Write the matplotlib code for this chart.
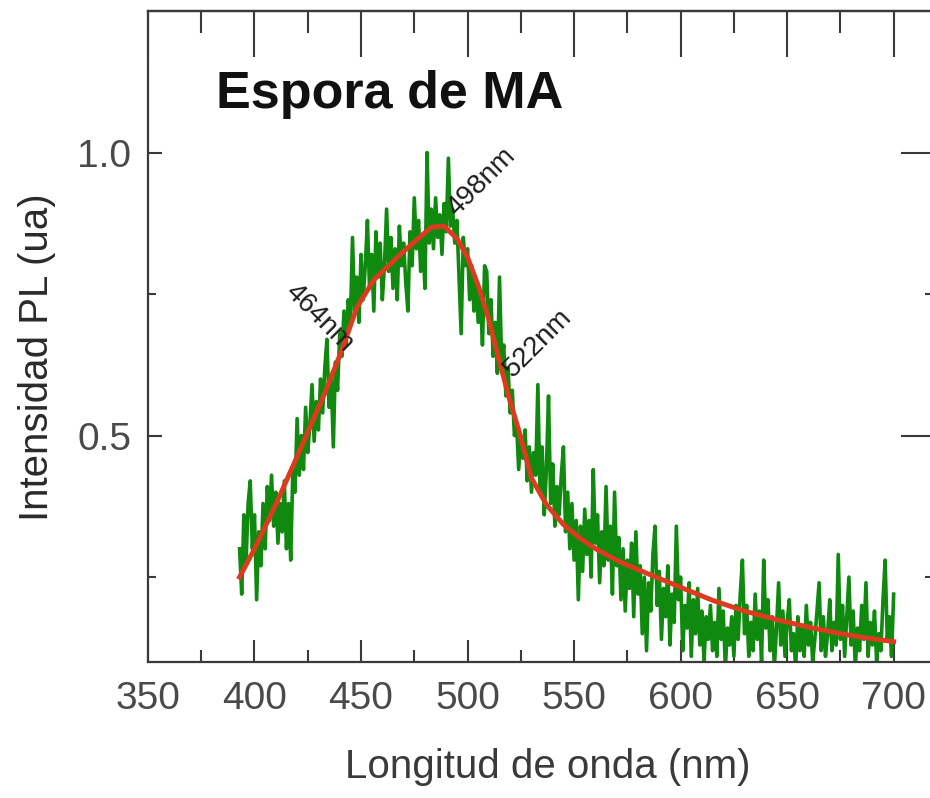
import matplotlib
matplotlib.use("Agg")
import matplotlib.pyplot as plt
import numpy as np
from matplotlib.ticker import MultipleLocator, FixedLocator

plt.rcParams['font.family'] = ['Liberation Sans', 'DejaVu Sans']

# espectro PL medido (1 nm de paso, 393-700 nm)
wl = np.arange(393, 701)
pl = [
    0.30, 0.22, 0.36, 0.27, 0.38, 0.42, 0.30, 0.36, 0.21, 0.33,
    0.27, 0.38, 0.30, 0.41, 0.35, 0.43, 0.34, 0.40, 0.31, 0.38,
    0.33, 0.42, 0.30, 0.38, 0.28, 0.44, 0.40, 0.53, 0.43, 0.50,
    0.44, 0.55, 0.47, 0.52, 0.59, 0.49, 0.56, 0.51, 0.60, 0.54,
    0.62, 0.67, 0.55, 0.60, 0.48, 0.63, 0.58, 0.68, 0.64, 0.72,
    0.66, 0.74, 0.70, 0.85, 0.72, 0.78, 0.70, 0.82, 0.74, 0.80,
    0.88, 0.76, 0.82, 0.72, 0.86, 0.78, 0.84, 0.74, 0.80, 0.90,
    0.79, 0.85, 0.76, 0.83, 0.74, 0.87, 0.80, 0.84, 0.77, 0.72,
    0.86, 0.80, 0.92, 0.83, 0.88, 0.79, 0.85, 0.76, 1.00, 0.84,
    0.90, 0.83, 0.92, 0.85, 0.89, 0.82, 0.91, 0.86, 0.99, 0.87,
    0.90, 0.84, 0.88, 0.78, 0.68, 0.85, 0.80, 0.83, 0.74, 0.80,
    0.72, 0.77, 0.70, 0.75, 0.66, 0.80, 0.79, 0.68, 0.74, 0.64,
    0.70, 0.61, 0.78, 0.63, 0.66, 0.57, 0.62, 0.54, 0.58, 0.50,
    0.52, 0.44, 0.50, 0.46, 0.51, 0.42, 0.48, 0.40, 0.47, 0.43,
    0.59, 0.40, 0.48, 0.36, 0.44, 0.57, 0.38, 0.45, 0.34, 0.41,
    0.36, 0.43, 0.48, 0.33, 0.40, 0.30, 0.38, 0.28, 0.35, 0.21,
    0.34, 0.26, 0.37, 0.29, 0.35, 0.25, 0.44, 0.31, 0.36, 0.24,
    0.33, 0.27, 0.41, 0.28, 0.34, 0.22, 0.40, 0.27, 0.32, 0.21,
    0.30, 0.19, 0.28, 0.23, 0.31, 0.18, 0.33, 0.22, 0.27, 0.15,
    0.25, 0.12, 0.24, 0.19, 0.29, 0.34, 0.20, 0.26, 0.14, 0.23,
    0.18, 0.27, 0.13, 0.22, 0.17, 0.34, 0.21, 0.25, 0.12, 0.20,
    0.16, 0.24, 0.11, 0.21, 0.15, 0.23, 0.13, 0.19, 0.10, 0.18,
    0.14, 0.20, 0.12, 0.17, 0.11, 0.23, 0.14, 0.19, 0.09, 0.16,
    0.13, 0.18, 0.11, 0.20, 0.14, 0.22, 0.28, 0.15, 0.20, 0.11,
    0.17, 0.12, 0.22, 0.14, 0.19, 0.10, 0.28, 0.16, 0.21, 0.12,
    0.18, 0.09, 0.16, 0.24, 0.13, 0.19, 0.11, 0.17, 0.21, 0.12,
    0.15, 0.09, 0.18, 0.12, 0.16, 0.11, 0.20, 0.13, 0.17, 0.10,
    0.14, 0.19, 0.24, 0.12, 0.18, 0.11, 0.15, 0.21, 0.12, 0.17,
    0.13, 0.29, 0.14, 0.20, 0.11, 0.18, 0.25, 0.13, 0.19, 0.09,
    0.16, 0.12, 0.20, 0.14, 0.24, 0.11, 0.17, 0.13, 0.19, 0.10,
    0.15, 0.12, 0.21, 0.28, 0.14, 0.18, 0.11, 0.22,
]

# ajuste (curva roja)
wl_fit = [393, 400, 410, 422, 433, 441, 448, 456, 469, 478, 483, 489, 495,
          500, 505, 510, 515, 520, 524, 530, 537, 545, 553, 561, 572, 584,
          600, 615, 630, 646, 662, 678, 690, 700]
pl_fit = [0.250, 0.300, 0.378, 0.480, 0.575, 0.651, 0.726, 0.775, 0.822,
          0.852, 0.868, 0.870, 0.848, 0.815, 0.765, 0.705, 0.630, 0.560,
          0.510, 0.425, 0.378, 0.343, 0.318, 0.298, 0.276, 0.257, 0.232,
          0.209, 0.190, 0.174, 0.160, 0.148, 0.141, 0.136]

# etiquetas de picos: (texto, x, y, rotación)
peak_labels = [("464nm", 430.6, 0.708, -45),
               ("498nm", 506.6, 0.948, 45),
               ("522nm", 532.8, 0.663, 45)]

fig = plt.figure(figsize=(9.3, 7.98), dpi=100)
ax = fig.add_axes([0.1591, 0.1704, 0.8591, 0.8158])

ax.plot(wl, pl, color='#0f8a0f', lw=2.6)
ax.plot(wl_fit, pl_fit, color='#dc3b1f', lw=3.5)

ax.set_xlim(350, 725)
ax.set_ylim(0.1, 1.25)

spine_c = '#3a3a3a'
for s in ax.spines.values():
    s.set_color(spine_c)
    s.set_linewidth(1.6)

ax.xaxis.set_major_locator(FixedLocator([350, 400, 450, 500, 550, 600, 650, 700]))
ax.xaxis.set_minor_locator(MultipleLocator(25))
ax.yaxis.set_major_locator(FixedLocator([0.5, 1.0]))
ax.yaxis.set_minor_locator(FixedLocator([0.25, 0.75]))
ax.tick_params(axis='x', which='major', direction='in', length=16, width=1.5,
               color=spine_c, labelsize=28, labelcolor='#4a4a4a', pad=14)
ax.tick_params(axis='x', which='minor', direction='in', length=9, width=1.5,
               color=spine_c)
ax.tick_params(axis='y', which='major', direction='in', length=10, width=1.5,
               color=spine_c, labelsize=28, labelcolor='#4a4a4a', pad=12)
ax.tick_params(axis='y', which='minor', direction='in', length=6, width=1.5,
               color=spine_c)
ax.set_yticklabels(['0.5', '1.0'])

# ejes superior y derecho con marcas largas
top = ax.secondary_xaxis('top')
top.xaxis.set_major_locator(FixedLocator([350, 400, 450, 500, 550, 600, 650, 700]))
top.xaxis.set_minor_locator(MultipleLocator(25))
top.tick_params(which='major', direction='in', length=33, width=1.5, color=spine_c,
                labeltop=False)
top.tick_params(which='minor', direction='in', length=16, width=1.5, color=spine_c)
top.spines['top'].set_color(spine_c)
top.spines['top'].set_linewidth(1.6)

right = ax.secondary_yaxis('right')
right.yaxis.set_major_locator(FixedLocator([0.5, 1.0]))
right.yaxis.set_minor_locator(FixedLocator([0.25, 0.75]))
right.tick_params(which='major', direction='in', length=33, width=1.5, color=spine_c,
                  labelright=False)
right.tick_params(which='minor', direction='in', length=16, width=1.5, color=spine_c)

ax.set_xlabel('Longitud de onda (nm)', fontsize=29, color='#3a3a3a', labelpad=22)
ax.set_ylabel('Intensidad PL (ua)', fontsize=29, color='#2a2a2a')
ax.yaxis.set_label_coords(-0.115, 0.468)

ax.text(0.085, 0.851, 'Espora de MA', transform=ax.transAxes, fontsize=37.5,
        fontweight='bold', color='#111111', ha='left', va='baseline')

for txt, x, y, rot in peak_labels:
    ax.text(x, y, txt, fontsize=20, color='#1e1e1e', rotation=rot,
            ha='center', va='center', rotation_mode='anchor')

fig.savefig('out.png', dpi=100)
